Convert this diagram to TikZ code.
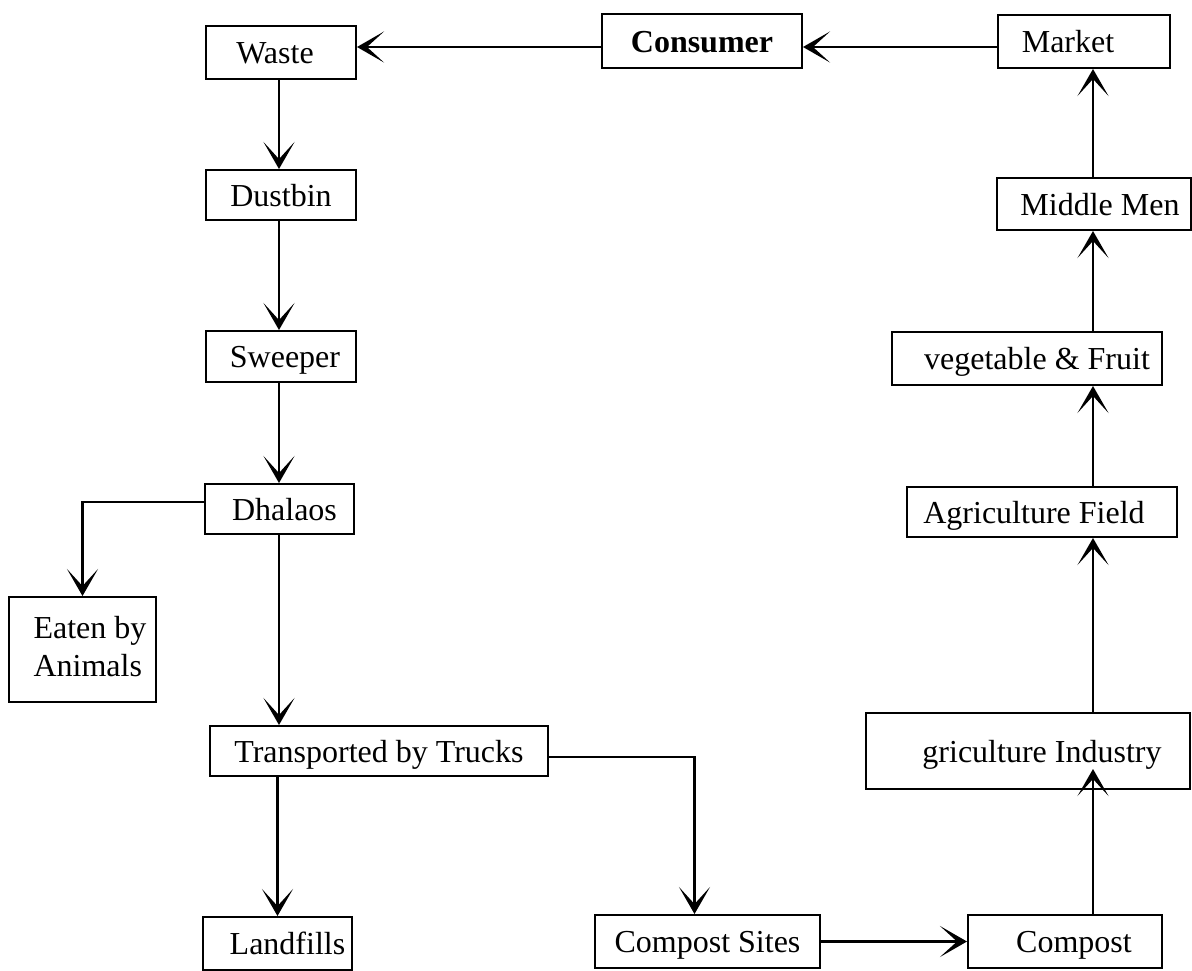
\documentclass[tikz,border=0pt]{standalone}
\usepackage{fontspec}
\setmainfont{Liberation Serif}
\usetikzlibrary{arrows.meta,calc}
\begin{document}
\begin{tikzpicture}[x=1pt,y=-1pt,
  box/.style={draw, line width=2pt, inner sep=0pt, font=\fontsize{32}{38}\selectfont},
  oneline/.style={box, text height=22pt, text depth=0pt},
  flow/.style={line width=2.8pt, -{Stealth[length=27pt,width=31pt,inset=17pt]}},
]
\useasboundingbox (0,0) rectangle (1192,970);

% guide lines for the two vertical chains and the top row
\coordinate (lspine) at (279,0);
\coordinate (rspine) at (1093,0);
\coordinate (toprow) at (0,47);

% left column: waste handling
\node[oneline, minimum width=150pt, minimum height=53pt] (waste) at (281,52.5) {Waste\hspace*{12pt}};
\node[oneline, minimum width=150pt, minimum height=50pt] (dustbin) at (281,195) {Dustbin};
\node[oneline, minimum width=150pt, minimum height=51pt] (sweeper) at (281,356.5) {\hspace*{8pt}Sweeper};
\node[oneline, minimum width=149pt, minimum height=50pt] (dhalaos) at (279.5,509) {\hspace*{10pt}Dhalaos};
\node[box, minimum width=147pt, minimum height=105pt] (eaten) at (82.5,649.5)
  {\hspace*{15pt}\begin{tabular}{@{}l@{}}Eaten by\\Animals\end{tabular}};
\node[oneline, minimum width=338pt, minimum height=50pt] (trucks) at (379,751) {Transported by Trucks};
\node[oneline, minimum width=149pt, minimum height=53pt] (landfills) at (277.5,943.5) {\hspace*{20pt}Landfills};
\node[oneline, minimum width=225pt, minimum height=53pt] (compostsites) at (707.5,941.5) {Compost Sites};

% top row
\node[oneline, minimum width=200pt, minimum height=54pt, font=\fontsize{32}{38}\selectfont\bfseries] (consumer) at (702,41) {Consumer};
\node[oneline, minimum width=172pt, minimum height=53pt] (market) at (1084,41.5) {Market\hspace*{32pt}};

% right column: compost back to the market
\node[oneline, minimum width=194pt, minimum height=52pt] (middlemen) at (1094,204) {\hspace*{12pt}Middle Men};
\node[oneline, minimum width=270pt, minimum height=53pt] (vegfruit) at (1027,358.5) {\hspace*{20pt}vegetable \& Fruit};
\node[oneline, minimum width=270pt, minimum height=50pt] (agrifield) at (1042,512) {Agriculture Field\hspace*{16pt}};
\node[oneline, minimum width=324pt, minimum height=76pt] (gindustry) at (1028,751) {\hspace*{28pt}griculture Industry};
\node[oneline, minimum width=194pt, minimum height=53pt] (compost) at (1065,941.5) {\hspace*{18pt}Compost};

% connectors
\draw[flow] (consumer.west |- toprow) -- (waste.east |- toprow);
\draw[flow] (market.west |- toprow) -- (consumer.east |- toprow);

\draw[flow] (waste.south -| lspine) -- (dustbin.north -| lspine);
\draw[flow] (dustbin.south -| lspine) -- (sweeper.north -| lspine);
\draw[flow] (sweeper.south -| lspine) -- (dhalaos.north -| lspine);
\draw[flow] ([yshift=7pt]dhalaos.west) -| (eaten.north);
\draw[flow] (dhalaos.south -| lspine) -- (trucks.north -| lspine);
\draw[flow] (trucks.south -| landfills.north) -- (landfills.north);
\draw[flow] ([yshift=-6pt]trucks.east) -| ([xshift=-13pt]compostsites.north);
\draw[flow] (compostsites.east) -- (compost.west);

\draw[flow, shorten >=-21pt] (compost.north -| rspine) -- (gindustry.south -| rspine);
\draw[flow] (gindustry.north -| rspine) -- (agrifield.south -| rspine);
\draw[flow] (agrifield.north -| rspine) -- (vegfruit.south -| rspine);
\draw[flow] (vegfruit.north -| rspine) -- (middlemen.south -| rspine);
\draw[flow] (middlemen.north -| rspine) -- (market.south -| rspine);
\end{tikzpicture}
\end{document}
